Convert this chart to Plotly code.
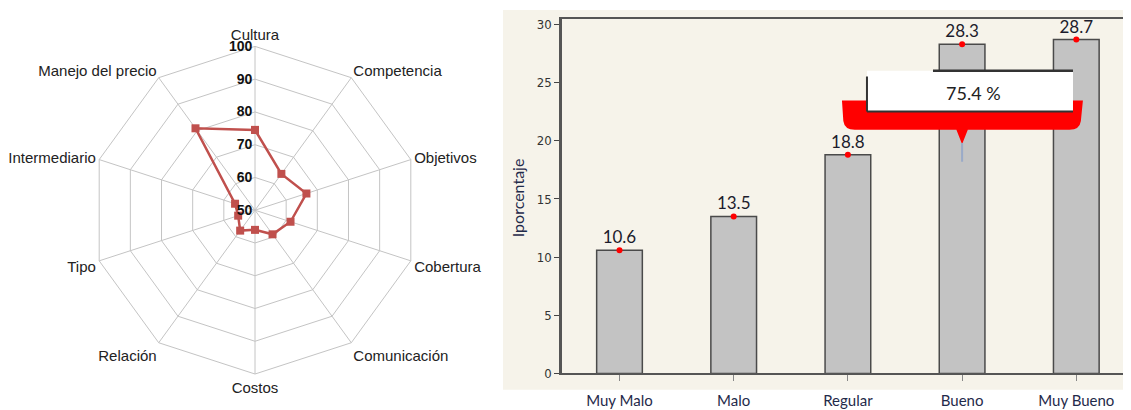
import plotly.graph_objects as go

# ---------------- data ----------------
radar_categories = ["Cultura", "Competencia", "Objetivos", "Cobertura", "Comunicación",
                    "Costos", "Relación", "Tipo", "Intermediario", "Manejo del precio"]
radar_values = [74.5, 63.7, 66.5, 61.4, 59.1, 56.0, 57.7, 55.4, 56.4, 80.9]
radial_ticks = [50, 60, 70, 80, 90, 100]

bar_categories = ["Muy Malo", "Malo", "Regular", "Bueno", "Muy Bueno"]
bar_values = [10.6, 13.5, 18.8, 28.3, 28.7]
bar_yticks = [0, 5, 10, 15, 20, 25, 30]
callout_text = "75.4 %"

OFF = 8
W, H = 1131 - OFF, 410 - OFF
SY = 0.978  # observed vertical scale of the rendered page


def px(X):
    return (X - OFF) / W


def py(Y):
    return 1 - ((Y - 8.2) / SY) / H


RED = "#c0504d"
GRID = "#c4c4c4"

fig = go.Figure()

# ---------------- radar ----------------
fig.add_trace(go.Scatterpolar(
    r=radar_values + radar_values[:1],
    theta=radar_categories + radar_categories[:1],
    mode="lines+markers",
    line=dict(color=RED, width=2.5),
    marker=dict(symbol="square", size=8, color=RED),
    showlegend=False, hoverinfo="skip",
))

cx, cy, R = 255, 209, 168
cyf = (cy - 8.2) / SY  # centre in figure pixels
fig.update_layout(
    polar=dict(
        domain=dict(x=[px(cx - R), px(cx + R)], y=[1 - (cyf + R) / H, 1 - (cyf - R) / H]),
        bgcolor="white",
        gridshape="linear",
        radialaxis=dict(range=[50, 100], tickvals=radial_ticks, angle=90, side="counterclockwise",
                        showline=False, gridcolor=GRID, gridwidth=1, ticks="",
                        ticksuffix='<span style="color:rgba(0,0,0,0)">00</span>',
                        tickfont=dict(family="Liberation Sans, Arial", size=14, color="#111",
                                      weight="bold"),
                        tickangle=90),
        angularaxis=dict(rotation=90, direction="clockwise", linecolor=GRID, linewidth=1,
                         gridcolor=GRID, gridwidth=1, ticks="",
                         tickfont=dict(family="Liberation Sans, Arial", size=15, color="#222")),
    )
)

# ---------------- bars ----------------
fig.add_trace(go.Bar(
    x=bar_categories, y=bar_values, width=0.4,
    marker=dict(color="#c3c3c3", line=dict(color="#4a4a4a", width=1.5)),
    text=[f"{v:.1f}" for v in bar_values], textposition="outside",
    textfont=dict(family="Lato, Open Sans", size=17, color="#1c1c2c"),
    cliponaxis=False, showlegend=False, hoverinfo="skip",
    xaxis="x", yaxis="y",
))
fig.add_trace(go.Scatter(
    x=bar_categories, y=bar_values, mode="markers",
    marker=dict(color="#ff0000", size=6), showlegend=False, hoverinfo="skip",
    xaxis="x", yaxis="y",
))

fig.update_layout(
    xaxis=dict(domain=[px(562), 1.0], range=[-0.5035, 4.479], showline=True, mirror=True,
               linecolor="#555", linewidth=2, ticks="outside", ticklen=6, tickcolor="#888",
               showgrid=False, ticklabelstandoff=7,
               tickfont=dict(family="Lato, Open Sans", size=15, color="#1f2a4a")),
    yaxis=dict(domain=[py(372.7), py(17)], range=[0, 30.49], tickvals=bar_yticks,
               showline=True, linecolor="#555", linewidth=2.5, ticks="outside", ticklen=5,
               tickcolor="#444", showgrid=False, zeroline=False,
               tickfont=dict(family="Liberation Sans Narrow, DejaVu Sans Condensed", size=13, color="#333")),
    plot_bgcolor="white",
    paper_bgcolor="white",
    width=W, height=H,
    margin=dict(l=0, r=0, t=0, b=0),
)

shapes = [
    # beige panel behind bar chart
    dict(type="rect", xref="paper", yref="paper", x0=px(503), x1=1.0, y0=py(389), y1=1.0,
         fillcolor="#f6f3ea", line=dict(width=0), layer="below"),
    # red callout with pointer
    dict(type="path", xref="x", yref="y", layer="above",
         path="M 1.948,23.46 L 4.058,23.46 L 4.04,21.7 Q 4.03,20.95 3.94,20.95 "
              "L 3.05,20.95 L 3.0,19.7 L 2.95,20.95 L 2.06,20.95 Q 1.97,20.95 1.96,21.7 Z",
         fillcolor="#ff0000", line=dict(width=0)),
    dict(type="line", xref="x", yref="y", x0=3.0, x1=3.0, y0=19.8, y1=18.2, layer="above",
         line=dict(color="#9aaac8", width=2)),
    # white box
    dict(type="rect", xref="x", yref="y", x0=2.167, x1=3.971, y0=22.52, y1=26.03, layer="above",
         fillcolor="white", line=dict(width=0)),
    dict(type="line", xref="x", yref="y", x0=2.745, x1=3.971, y0=26.03, y1=26.03, layer="above",
         line=dict(color="#333", width=2.5)),
    dict(type="line", xref="x", yref="y", x0=2.167, x1=2.167, y0=25.52, y1=22.52, layer="above",
         line=dict(color="#333", width=2)),
    dict(type="line", xref="x", yref="y", x0=2.167, x1=3.971, y0=22.52, y1=22.52, layer="above",
         line=dict(color="#333", width=2)),
]
fig.update_layout(shapes=shapes)

fig.add_annotation(xref="x", yref="y", x=3.096, y=24.1, text=callout_text, showarrow=False,
                   font=dict(family="Lato, Open Sans", size=18, color="#222"))
fig.add_annotation(xref="paper", yref="paper", x=px(517), y=py(197), text="Iporcentaje",
                   textangle=-90, showarrow=False,
                   font=dict(family="Lato, Open Sans", size=16, color="#1f2a4a"))

fig.write_html("out.html")
